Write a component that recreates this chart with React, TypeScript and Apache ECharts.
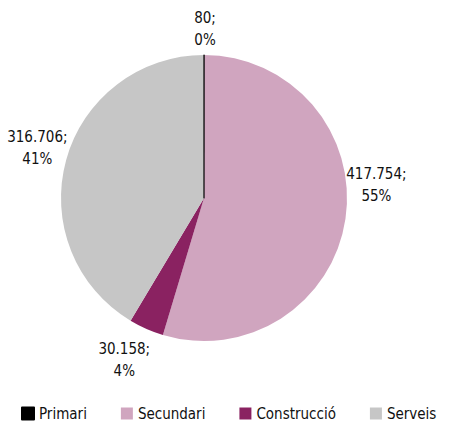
import React, { useEffect, useRef } from "react";
import * as echarts from "echarts";

const categories = ["Primari", "Secundari", "Construcció", "Serveis"];
const values = [80, 417754, 30158, 316706];
const colors = ["#000000", "#D0A5BF", "#8A2261", "#C6C6C6"];

const FONT = "'DejaVu Sans Condensed', 'Liberation Sans Narrow', sans-serif";

const labelShift = [
  { dx: -4, dy: -21 },
  { dx: 21, dy: -35 },
  { dx: -15, dy: 27 },
  { dx: -19, dy: -11 },
];

// draw order: tiny "Primari" slice painted last so its edge line stays visible
const drawOrder = [1, 2, 3, 0];

function fmt(v: number): string {
  return String(v).replace(/\B(?=(\d{3})+(?!\d))/g, ".");
}

export default function App() {
  const ref = useRef<HTMLDivElement>(null);
  useEffect(() => {
    if (!ref.current) return;
    const chart = echarts.init(ref.current, null, { renderer: "svg" });
    const total = values.reduce((a, b) => a + b, 0);
    const startAngle = 90 - (360 * values[0]) / total;
    chart.setOption({
      animation: false,
      backgroundColor: "#ffffff",
      legend: {
        left: 16,
        top: 401,
        icon: "rect",
        itemWidth: 12,
        itemHeight: 12,
        itemGap: 34,
        textStyle: { fontFamily: FONT, fontSize: 15, color: "#111" },
        data: categories,
      },
      series: [
        {
          type: "pie",
          center: [204, 198],
          radius: 143,
          startAngle,
          clockwise: true,
          avoidLabelOverlap: false,
          label: {
            show: true,
            position: "outside",
            fontFamily: FONT,
            fontSize: 15,
            lineHeight: 22,
            color: "#111",
            formatter: (p: any) => `${fmt(p.value)};\n${Math.round(p.percent)}%`,
          },
          labelLine: { show: false, length: 5, length2: 0 },
          labelLayout: (p: any) => {
            const s = labelShift[drawOrder[p.dataIndex]] || { dx: 0, dy: 0 };
            return { align: "center", dx: s.dx, dy: s.dy };
          },
          emphasis: { disabled: true },
          data: drawOrder.map((i) => ({
            name: categories[i],
            value: values[i],
            itemStyle: {
              color: colors[i],
              borderColor: i === 0 ? "#000" : colors[i],
              borderWidth: i === 0 ? 1.2 : 0,
            },
          })),
        },
      ],
    });
    return () => chart.dispose();
  }, []);
  return (
    <div
      ref={ref}
      style={{ position: "absolute", left: 0, top: 0, width: 454, height: 427 }}
    />
  );
}
